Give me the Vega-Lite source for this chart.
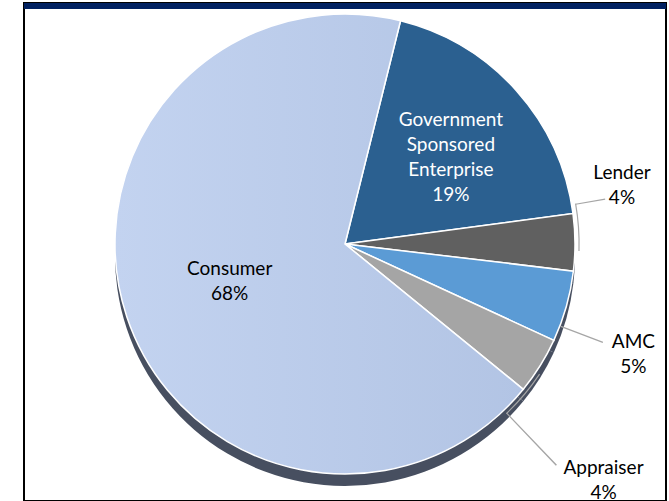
{
  "$schema": "https://vega.github.io/schema/vega-lite/v6.json",
  "width": 642,
  "height": 498,
  "autosize": {"type": "none"},
  "padding": {"left": 24, "top": 3, "right": 3, "bottom": 0},
  "background": "white",
  "view": {"stroke": "black", "strokeWidth": 2, "fill": "white"},
  "config": {"text": {"font": "Lato", "fontSize": 19, "lineHeight": 25}},
  "datasets": {
    "leaders": [
      {"leader": "Lender", "part": "along", "from": 18.36, "to": 21.6},
      {"leader": "Lender", "part": "out", "from": 18.36, "to": 18.44},
      {"leader": "AMC", "part": "out", "from": 26.88, "to": 26.96},
      {"leader": "Appraiser", "part": "along", "from": 30.5, "to": 34.02},
      {"leader": "Appraiser", "part": "out", "from": 33.94, "to": 34.02}
    ]
  },
  "data": {"values": [
    {"segment": "Government Sponsored Enterprise", "label": "Government\nSponsored\nEnterprise\n19%", "share": 19, "order": 1},
    {"segment": "Lender", "label": "Lender\n4%", "share": 4, "order": 2},
    {"segment": "AMC", "label": "AMC\n5%", "share": 5, "order": 3},
    {"segment": "Appraiser", "label": "Appraiser\n4%", "share": 4, "order": 4},
    {"segment": "Consumer", "label": "Consumer\n68%", "share": 68, "order": 5}
  ]},
  "encoding": {
    "theta": {"field": "share", "type": "quantitative", "stack": true, "scale": {"range": [0.244, 6.527]}},
    "order": {"field": "order", "type": "quantitative", "sort": "ascending"}
  },
  "layer": [
    {
      "mark": {"type": "arc", "radius": 230, "y": {"expr": "height/2 + 4"}, "stroke": null, "color": "#474f60"}
    },
    {
      "mark": {"type": "arc", "radius": 230, "y": {"expr": "height/2 - 8"}, "stroke": "white", "strokeWidth": 1.5},
      "encoding": {
        "color": {"field": "segment", "type": "nominal", "legend": null,
          "condition": {"test": "datum.order == 5", "value": {"gradient": "linear", "x1": 0, "y1": 0.5, "x2": 1, "y2": 0.5, "stops": [{"offset": 0, "color": "#c3d3f0"}, {"offset": 1, "color": "#b2c4e4"}]}},
          "scale": {"domain": ["Government Sponsored Enterprise", "Lender", "AMC", "Appraiser", "Consumer"],
                    "range": ["#2b6090", "#606060", "#5b9bd5", "#a5a5a5", "#bacbe8"]}}
      }
    },
    {
      "mark": {"type": "text", "radius": 130, "y": {"expr": "height/2 - 8"}, "dx": 9, "dy": -37, "lineBreak": "\n", "align": "center", "baseline": "middle", "color": "white"},
      "encoding": {
        "text": {"field": "label", "type": "nominal", "condition": {"test": "datum.order != 1", "value": ""}}
      }
    },
    {
      "mark": {"type": "text", "radius": 130, "y": {"expr": "height/2 - 8"}, "dx": 8, "dy": -16, "lineBreak": "\n", "align": "center", "baseline": "middle", "color": "black"},
      "encoding": {
        "text": {"field": "label", "type": "nominal", "condition": {"test": "datum.order != 5", "value": ""}}
      }
    },
    {
      "mark": {"type": "text", "radius": 280, "y": {"expr": "height/2 - 8"}, "dx": -3, "dy": -69, "lineBreak": "\n", "align": "center", "baseline": "middle", "color": "black"},
      "encoding": {
        "text": {"field": "label", "type": "nominal", "condition": {"test": "datum.order != 2", "value": ""}}
      }
    },
    {
      "mark": {"type": "text", "radius": 280, "y": {"expr": "height/2 - 8"}, "dx": 19, "dy": 22, "lineBreak": "\n", "align": "center", "baseline": "middle", "color": "black"},
      "encoding": {
        "text": {"field": "label", "type": "nominal", "condition": {"test": "datum.order != 3", "value": ""}}
      }
    },
    {
      "mark": {"type": "text", "radius": 280, "y": {"expr": "height/2 - 8"}, "dx": 21, "dy": 76, "lineBreak": "\n", "align": "center", "baseline": "middle", "color": "black"},
      "encoding": {
        "text": {"field": "label", "type": "nominal", "condition": {"test": "datum.order != 4", "value": ""}}
      }
    },
    {
      "data": {"name": "leaders"},
      "transform": [{"filter": "datum.part == 'along'"}],
      "mark": {"type": "arc", "radius": 234.7, "radius2": 233.5, "y": {"expr": "height/2 - 8"}, "fill": "#a6a6a6", "stroke": null},
      "encoding": {"theta": {"field": "from", "type": "quantitative", "stack": null}, "theta2": {"field": "to"}, "order": null}
    },
    {
      "data": {"name": "leaders"},
      "transform": [{"filter": "datum.leader == 'Lender' && datum.part == 'out'"}],
      "mark": {"type": "arc", "radius": 264, "radius2": 234, "y": {"expr": "height/2 - 8"}, "fill": "#a6a6a6", "stroke": null},
      "encoding": {"theta": {"field": "from", "type": "quantitative", "stack": null}, "theta2": {"field": "to"}, "order": null}
    },
    {
      "data": {"name": "leaders"},
      "transform": [{"filter": "datum.leader == 'AMC'"}],
      "mark": {"type": "arc", "radius": 276, "radius2": 231, "y": {"expr": "height/2 - 8"}, "fill": "#a6a6a6", "stroke": null},
      "encoding": {"theta": {"field": "from", "type": "quantitative", "stack": null}, "theta2": {"field": "to"}, "order": null}
    },
    {
      "data": {"name": "leaders"},
      "transform": [{"filter": "datum.leader == 'Appraiser' && datum.part == 'out'"}],
      "mark": {"type": "arc", "radius": 306, "radius2": 234, "y": {"expr": "height/2 - 8"}, "fill": "#a6a6a6", "stroke": null},
      "encoding": {"theta": {"field": "from", "type": "quantitative", "stack": null}, "theta2": {"field": "to"}, "order": null}
    },
    {
      "data": {"values": [{"band": "top"}]},
      "mark": {"type": "rect", "x": 0, "x2": {"expr": "width"}, "y": 0, "y2": 6, "color": "#002060"},
      "encoding": {"theta": null, "order": null}
    }
  ]
}
